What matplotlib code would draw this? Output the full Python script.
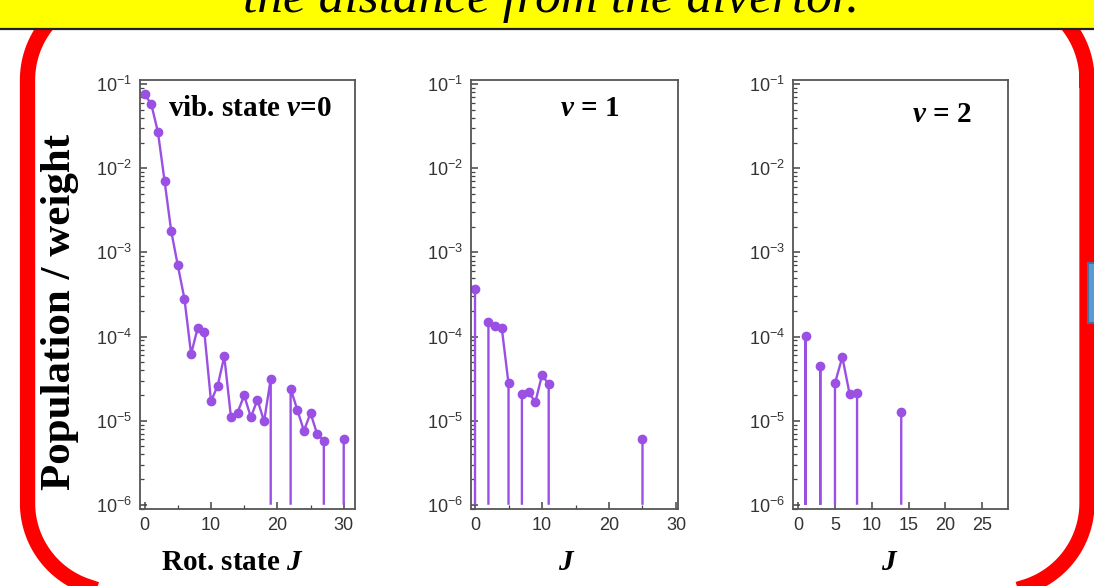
import numpy as np
import matplotlib
matplotlib.use("Agg")
import matplotlib.pyplot as plt
from matplotlib.patches import Rectangle
from matplotlib.ticker import LogLocator, MultipleLocator, NullFormatter

plt.rcParams['font.family'] = 'Liberation Sans'
plt.rcParams['mathtext.fontset'] = 'custom'
plt.rcParams['mathtext.rm'] = 'Liberation Serif:bold'
plt.rcParams['mathtext.it'] = 'Liberation Serif:italic:bold'
plt.rcParams['mathtext.default'] = 'regular'
plt.rcParams['axes.unicode_minus'] = False

# populations per rotational state J (0 = not populated)
J_v0 = np.arange(0, 31)
pop_v0 = [7.6e-2, 5.8e-2, 2.7e-2, 7.1e-3, 1.8e-3, 7.0e-4, 2.8e-4, 6.2e-5, 1.27e-4, 1.12e-4,
          1.7e-5, 2.6e-5, 5.8e-5, 1.12e-5, 1.25e-5, 2.0e-5, 1.1e-5, 1.77e-5, 9.8e-6, 3.15e-5,
          0, 0, 2.4e-5, 1.35e-5, 7.6e-6, 1.23e-5, 6.9e-6, 5.8e-6, 0, 0, 6.0e-6]

J_v1 = np.arange(0, 26)
pop_v1 = [3.7e-4, 0, 1.48e-4, 1.35e-4, 1.25e-4, 2.77e-5, 0, 2.1e-5, 2.2e-5, 1.65e-5,
          3.5e-5, 2.7e-5, 0, 0, 0, 0, 0, 0, 0, 0, 0, 0, 0, 0, 0, 6.0e-6]

J_v2 = np.arange(0, 15)
pop_v2 = [0, 1.02e-4, 0, 4.5e-5, 0, 2.8e-5, 5.7e-5, 2.05e-5, 2.15e-5, 0, 0, 0, 0, 0, 1.27e-5]

panel_labels = [r'vib. state $\mathit{v}$=0', r'$\mathit{v}$ = 1', r'$\mathit{v}$ = 2']
x_labels = [r'Rot. state $\mathit{J}$', r'$\mathit{J}$', r'$\mathit{J}$']
banner_text = 'the distance from the divertor.'

PURPLE = '#9b50e4'
FLOOR = 1e-6
W, H = 1094, 586


def drop_path(J, pop, floor=FLOOR):
    """line through the populated states, dropping to the floor next to empty ones"""
    xs, ys = [], []
    n = len(pop)
    for i in range(n):
        p = pop[i]
        if p <= 0:
            if xs and not np.isnan(ys[-1]):
                xs.append(np.nan)
                ys.append(np.nan)
            continue
        if i > 0 and pop[i - 1] <= 0:
            xs.append(J[i]); ys.append(floor)
        xs.append(J[i]); ys.append(p)
        if i < n - 1 and pop[i + 1] <= 0:
            xs.append(J[i]); ys.append(floor)
    return xs, ys


def rounded_rect(x0, y0, x1, y1, r, n=40):
    """outline of a rounded rectangle in pixel units"""
    xs, ys = [], []
    corners = [(x1 - r, y1 - r, 0), (x0 + r, y1 - r, 90), (x0 + r, y0 + r, 180), (x1 - r, y0 + r, 270)]
    for cx, cy, a0 in corners:
        t = np.radians(np.linspace(a0, a0 + 90, n))
        xs.extend(cx + r * np.cos(t))
        ys.extend(cy + r * np.sin(t))
    xs.append(xs[0]); ys.append(ys[0])
    return xs, ys


def px_axes(fig, left, right, top, bottom):
    return fig.add_axes([left / W, 1 - bottom / H, (right - left) / W, (bottom - top) / H])


fig = plt.figure(figsize=(W / 100, H / 100), dpi=100)

# slide decoration, drawn in pixel units (y measured upward)
bg = fig.add_axes([0, 0, 1, 1])
bg.set_xlim(0, W)
bg.set_ylim(0, H)
bg.axis('off')
rx, ry = rounded_rect(27.5, H - 591, 1087, H + 8, 88)
bg.plot(rx, ry, color='#ff0000', lw=11, solid_joinstyle='round', zorder=1)
bg.add_patch(Rectangle((0, H - 28.5), W, 28.5, fc='#ffff00', ec='none', zorder=2))
bg.plot([0, W], [H - 29, H - 29], color='#222222', lw=1.6, zorder=3)
bg.add_patch(Rectangle((1088, H - 323), 10, 60, fc='#5b9bd5', ec='#41719c', lw=1.5, zorder=2))
bg.text(551, H - 12, banner_text, family='Liberation Serif', style='italic', fontsize=37,
        ha='center', va='baseline', zorder=4)

boxes = [(140, 355), (471, 678), (793, 1008)]
data = [(J_v0, pop_v0), (J_v1, pop_v1), (J_v2, pop_v2)]
xlims = [(-0.7, 31.7), (-0.6, 30.3), (-0.7, 28.5)]
majors = [10, 10, 5]
text_pos = [(250, 116), (590, 116), (942, 122)]
xlab_pos = [232, 567, 890]

for k in range(3):
    ax = px_axes(fig, boxes[k][0], boxes[k][1], 80, 509)
    J, pop = data[k]
    xs, ys = drop_path(J, pop)
    ax.plot(xs, ys, color=PURPLE, lw=1.7, solid_capstyle='butt')
    pts = [(j, p) for j, p in zip(J, pop) if p > 0]
    ax.plot([a for a, b in pts], [b for a, b in pts], 'o', color=PURPLE, ms=6)

    ax.set_yscale('log')
    ax.set_ylim(10 ** -6.05, 10 ** -0.95)
    ax.set_xlim(*xlims[k])
    ax.yaxis.set_major_locator(LogLocator(base=10, numticks=10))
    ax.yaxis.set_minor_locator(LogLocator(base=10, subs=np.arange(2, 10), numticks=20))
    ax.yaxis.set_minor_formatter(NullFormatter())
    ax.xaxis.set_major_locator(MultipleLocator(majors[k]))
    if majors[k] == 10:
        ax.xaxis.set_minor_locator(MultipleLocator(5))
    ax.tick_params(which='both', direction='in', top=False, right=False,
                   colors='#444444', labelcolor='#333333', labelsize=13)
    ax.tick_params(which='major', length=5, width=1.1, pad=6)
    ax.tick_params(which='minor', length=3, width=0.9)
    for sp in ax.spines.values():
        sp.set_color('#555555')
        sp.set_linewidth(1.3)

    tx, ty = text_pos[k]
    fig.text(tx / W, 1 - ty / H, panel_labels[k], family='Liberation Serif',
             weight='bold', fontsize=21, ha='center', va='baseline')
    fig.text(xlab_pos[k] / W, 1 - 562 / H, x_labels[k], family='Liberation Serif',
             weight='bold', fontsize=21, ha='center', va='center')

fig.text(60 / W, 1 - 312 / H, 'Population / weight', family='Liberation Serif',
         weight='bold', fontsize=31, rotation=90, ha='center', va='center')

fig.savefig('out.png', dpi=100)
